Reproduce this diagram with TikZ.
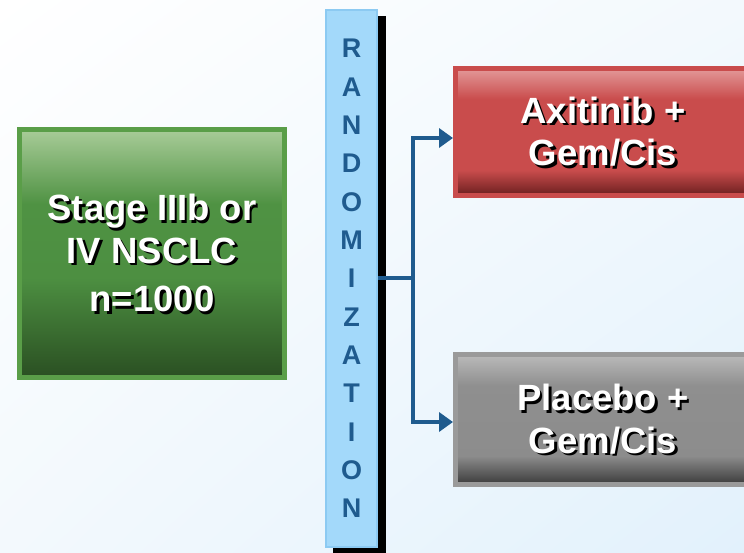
\documentclass[tikz,border=0pt]{standalone}
\usepackage{fontspec}
\setmainfont{Liberation Sans}
\usetikzlibrary{arrows.meta,shadings}
\definecolor{gborder}{HTML}{5A9E48}
\definecolor{rborder}{HTML}{C94C4C}
\definecolor{kborder}{HTML}{9A9A9A}
\definecolor{barfill}{HTML}{A3D9FA}
\definecolor{barline}{HTML}{8CCAF2}
\definecolor{navy}{HTML}{1F5B8E}
\definecolor{bgblue}{HTML}{E2F1FC}
\definecolor{bgmid}{HTML}{F3F9FD}
\pgfdeclareverticalshading{gsh}{100bp}{rgb(0bp)=(0.165,0.31,0.133); rgb(25bp)=(0.165,0.31,0.133); rgb(45bp)=(0.30,0.56,0.255); rgb(60bp)=(0.31,0.573,0.263); rgb(75bp)=(0.66,0.80,0.596); rgb(100bp)=(0.66,0.80,0.596)}
\pgfdeclareverticalshading{rsh}{100bp}{rgb(0bp)=(0.42,0.12,0.12); rgb(25bp)=(0.42,0.12,0.12); rgb(35bp)=(0.79,0.30,0.30); rgb(63bp)=(0.79,0.30,0.30); rgb(75bp)=(0.89,0.60,0.60); rgb(100bp)=(0.89,0.60,0.60)}
\pgfdeclareverticalshading{ksh}{100bp}{rgb(0bp)=(0.23,0.23,0.23); rgb(25bp)=(0.23,0.23,0.23); rgb(36bp)=(0.55,0.55,0.55); rgb(63bp)=(0.56,0.56,0.56); rgb(75bp)=(0.73,0.73,0.73); rgb(100bp)=(0.73,0.73,0.73)}
\tikzset{
  armbox/.style={draw=#1, line width=5pt, minimum width=295pt, inner sep=0pt},
  txt/.style={font=\fontsize{36.5}{42.5}\selectfont\bfseries, align=center, inner sep=0pt},
  conn/.style={draw=navy, line width=4pt, -{Triangle[length=14pt,width=19pt]}},
  plainconn/.style={draw=navy, line width=4pt}
}
\begin{document}
\begin{tikzpicture}[x=1pt,y=-1pt]
\useasboundingbox (0,0) rectangle (744,552);
\shade[upper left=white, upper right=bgmid, lower left=bgmid, lower right=bgblue] (0,0) rectangle (744,552);
% stage box
\node[draw=gborder, line width=5pt, shading=gsh, minimum width=265pt, minimum height=248pt, inner sep=0pt] (stage) at (152,253.5) {};
\node[txt, black] (stagesh) at (154.5,255.5) {Stage IIIb or\\IV NSCLC\\[6pt]n=1000};
\node[txt, white] (stagetxt) at (152,253) {Stage IIIb or\\IV NSCLC\\[6pt]n=1000};
% randomization bar
\node[fill=black, minimum width=53pt, minimum height=539pt, inner sep=0pt] (barsh) at (359.5,285) {};
\node[fill=barfill, draw=barline, line width=2pt, minimum width=51pt, minimum height=537pt, inner sep=0pt, text=navy, font=\fontsize{27}{38.33}\selectfont\bfseries, align=center] (bar) at (351.5,278.5) {R\\A\\N\\D\\O\\M\\I\\Z\\A\\T\\I\\O\\N};
% arm boxes
\node[armbox=rborder, shading=rsh, minimum height=127pt] (red) at (603,132) {};
\node[txt, black] (redsh) at (605.5,134) {Axitinib +\\Gem/Cis};
\node[txt, white] (redtxt) at (603,131.5) {Axitinib +\\Gem/Cis};
\node[armbox=kborder, shading=ksh, minimum height=130pt] (gray) at (603,419.5) {};
\node[txt, black] (graysh) at (605.5,421.5) {Placebo +\\Gem/Cis};
\node[txt, white] (graytxt) at (603,419) {Placebo +\\Gem/Cis};
% connectors
\coordinate (split) at (413,278);
\draw[plainconn] (bar.east |- split) -- (split);
\draw[conn] (split) |- ([yshift=-6pt]red.west);
\draw[conn] (split) |- ([yshift=-2.5pt]gray.west);
\end{tikzpicture}
\end{document}
